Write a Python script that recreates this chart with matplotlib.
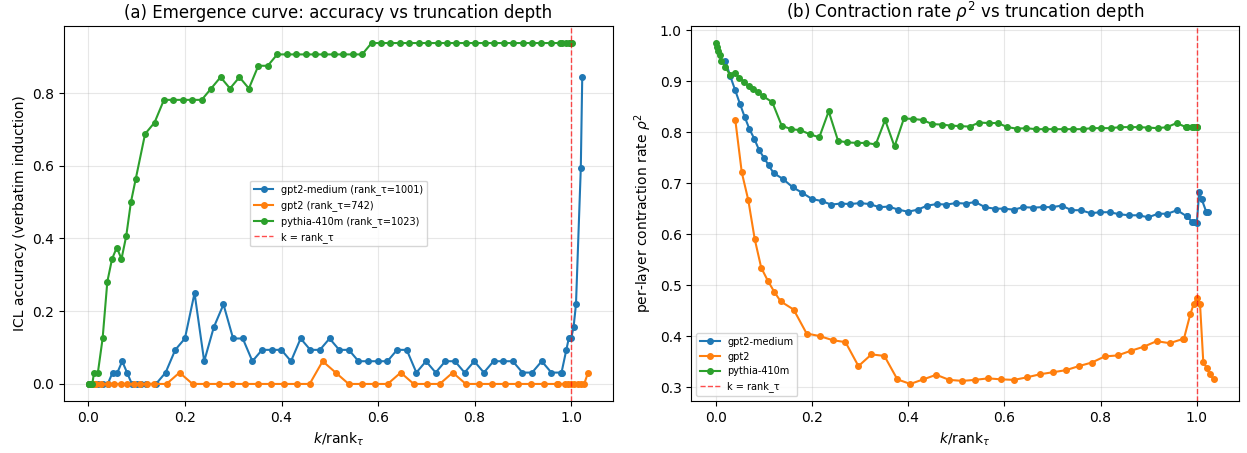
import numpy as np
import matplotlib
matplotlib.use('Agg')
import matplotlib.pyplot as plt

N_PROMPTS = 32

# shared truncation grid (k values), coarse part
K_SMALL = [1, 2, 4, 8, 12, 20]
K_MID = [30, 40, 50, 60, 70, 80, 90, 100]
K_GRID = [120, 140, 160, 180, 200, 220, 240, 260, 280, 300,
          320, 340, 360, 380, 400, 420, 440, 460, 480, 500,
          520, 540, 560, 580, 600, 620, 640, 660, 680, 700,
          720, 740, 760, 780, 800, 820, 840, 860, 880, 900,
          920, 940, 960, 980, 1000]

models = ['gpt2-medium', 'gpt2', 'pythia-410m']
ranks = {'gpt2-medium': 1001, 'gpt2': 742, 'pythia-410m': 1023}
near_rank = {
    'gpt2-medium': [981, 991, 996, 1001, 1006, 1011, 1021, 1024],
    'gpt2': [722, 732, 737, 742, 747, 752, 757, 762, 768],
    'pythia-410m': [1003, 1013, 1018, 1023, 1024],
}
extra_mid = {'gpt2-medium': [110], 'gpt2': [], 'pythia-410m': []}

# correct answers out of 32 prompts
correct = {
    'gpt2-medium': [0, 0, 0, 0, 0, 0,
                    0, 0, 1, 1, 2, 1, 0, 0, 0,
                    0, 0, 1, 3, 4, 8, 2, 5, 7, 4,
                    4, 2, 3, 3, 3, 2, 4, 3, 3, 4,
                    3, 3, 2, 2, 2, 2, 3, 3, 1, 2,
                    1, 2, 2, 1, 2, 1, 2, 2, 2, 1,
                    1, 2, 1, 1,
                    1, 3, 4, 4, 5, 7, 19, 27],
    'gpt2': [0, 0, 0, 0, 0, 0,
             0, 0, 0, 0, 0, 0, 0, 0,
             0, 1, 0, 0, 0, 0, 0, 0, 0, 0,
             0, 0, 2, 1, 0, 0, 0, 0, 1, 0,
             0, 0, 1, 0, 0, 0, 0, 0, 0, 0,
             0,
             0, 0, 0, 0, 0, 0, 0, 0, 1],
    'pythia-410m': [0, 0, 0, 0, 1, 1,
                    4, 9, 11, 12, 11, 13, 16, 18,
                    22, 23, 25, 25, 25, 25, 25, 26, 27, 26,
                    27, 26, 28, 28, 29, 29, 29, 29, 29, 29,
                    29, 29, 29, 29, 30, 30, 30, 30, 30, 30,
                    30, 30, 30, 30, 30, 30, 30, 30, 30, 30,
                    30, 30, 30, 30, 30,
                    30, 30, 30, 30, 30],
}

nan = np.nan
rho2 = {
    'gpt2-medium': [nan, nan, nan, nan, nan, 0.939,
                    0.910, 0.883, 0.856, 0.830, 0.806, 0.787, 0.765, 0.750, 0.735,
                    0.720, 0.708, 0.692, 0.681, 0.669, 0.665, 0.658, 0.660, 0.659, 0.661,
                    0.659, 0.653, 0.654, 0.648, 0.644, 0.648, 0.656, 0.659, 0.658, 0.661,
                    0.660, 0.663, 0.653, 0.650, 0.650, 0.648, 0.653, 0.652, 0.653, 0.653,
                    0.656, 0.647, 0.647, 0.641, 0.643, 0.643, 0.639, 0.637, 0.637, 0.633,
                    0.640, 0.640, 0.647, 0.635,
                    0.635, 0.624, 0.623, 0.622, 0.682, 0.669, 0.643, 0.643],
    'gpt2': [nan, nan, nan, nan, nan, nan,
             0.824, 0.721, 0.667, 0.590, 0.534, 0.509, 0.487, 0.468,
             0.452, 0.405, 0.400, 0.392, 0.388, 0.341, 0.364, 0.361, 0.315, 0.306,
             0.315, 0.324, 0.314, 0.312, 0.314, 0.317, 0.315, 0.314, 0.319, 0.325,
             0.329, 0.333, 0.341, 0.348, 0.360, 0.362, 0.371, 0.379, 0.390, 0.386,
             0.394,
             0.394, 0.443, 0.462, 0.475, 0.462, 0.349, 0.338, 0.325, 0.315],
    'pythia-410m': [0.975, 0.968, 0.960, 0.952, 0.940, 0.928,
                    0.913, 0.917, 0.907, 0.899, 0.890, 0.885, 0.879, 0.871,
                    0.859, 0.813, 0.806, 0.804, 0.796, 0.790, 0.841, 0.783, 0.780, 0.779,
                    0.779, 0.776, 0.824, 0.772, 0.827, 0.826, 0.824, 0.816, 0.815, 0.813,
                    0.812, 0.811, 0.819, 0.818, 0.818, 0.810, 0.807, 0.808, 0.806, 0.806,
                    0.806, 0.806, 0.806, 0.806, 0.808, 0.808, 0.808, 0.810, 0.810, 0.810,
                    0.809, 0.808, 0.810, 0.818, 0.810,
                    0.810, 0.810, 0.810, 0.810, 0.810],
}


def k_values(m):
    r = ranks[m]
    grid = [k for k in K_GRID if k < near_rank[m][0]]
    return np.array(K_SMALL + K_MID + extra_mid[m] + grid + near_rank[m])


fig = plt.figure(figsize=(12.47, 4.53), dpi=100)
ax1 = fig.add_axes([0.0513, 0.1148, 0.4403, 0.8278])
ax2 = fig.add_axes([0.5545, 0.1148, 0.4387, 0.8278])

for m in models:
    x = k_values(m) / ranks[m]
    acc = np.array(correct[m]) / N_PROMPTS
    ax1.plot(x, acc, 'o-', ms=4, lw=1.5, label=f'{m} (rank_τ={ranks[m]})')
    ax2.plot(x, np.array(rho2[m]), 'o-', ms=4, lw=1.5, label=m)

for ax in (ax1, ax2):
    ax.axvline(1.0, color='red', ls='--', lw=1, alpha=0.7, label='k = rank_τ')
    ax.set_xlabel(r'$k$/rank$_\tau$')
    ax.grid(True, alpha=0.3)

ax1.set_ylabel('ICL accuracy (verbatim induction)')
ax1.set_title('(a) Emergence curve: accuracy vs truncation depth')
ax1.legend(loc='center', fontsize=7)

ax2.set_ylabel(r'per-layer contraction rate $\rho^2$')
ax2.set_title(r'(b) Contraction rate $\rho^2$ vs truncation depth')
ax2.legend(loc='lower left', fontsize=7)

fig.savefig('out.png', dpi=100)
